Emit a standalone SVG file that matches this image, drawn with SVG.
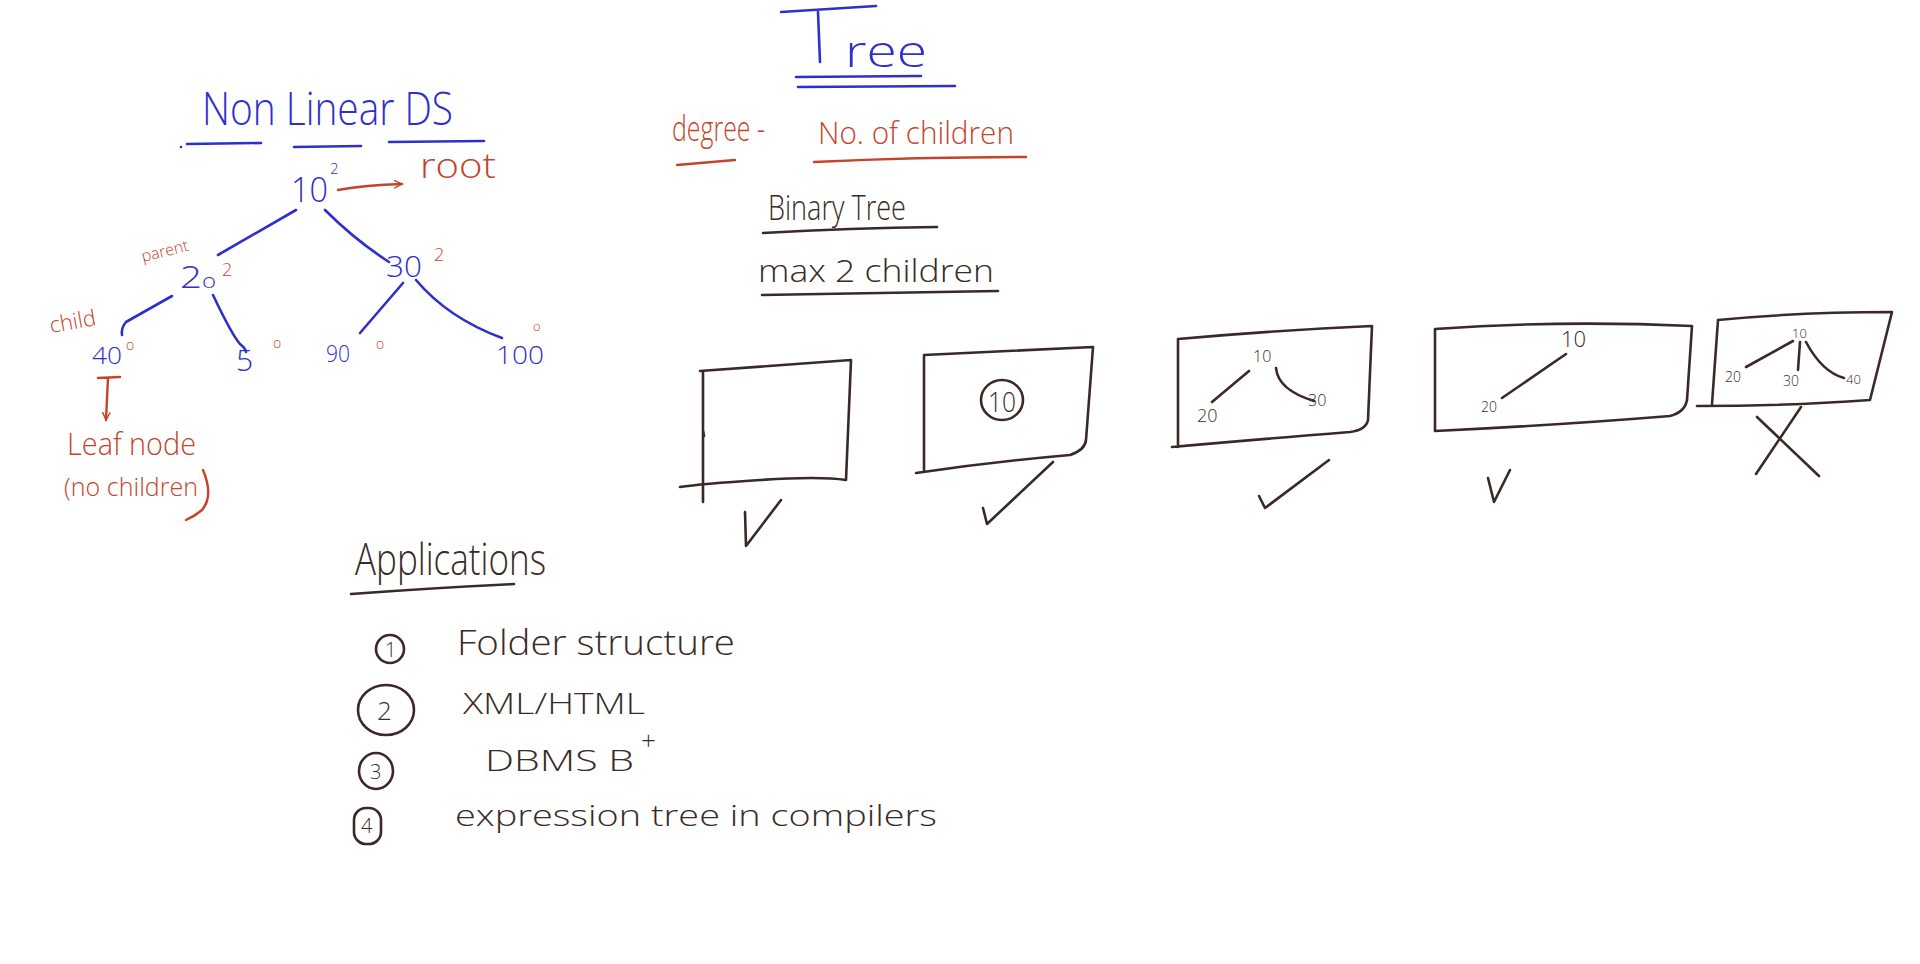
<svg xmlns="http://www.w3.org/2000/svg" width="1920" height="964" viewBox="0 0 1920 964">
<defs>
<style>
.b{fill:#2f2fcc}
.r{fill:#c4442a}
.k{fill:#3a2a26}
text{font-family:"Open Sans","Liberation Sans",sans-serif;font-weight:300}
.sb{stroke:#2f2fcc;fill:none;stroke-width:2.6;stroke-linecap:round;stroke-linejoin:round}
.sr{stroke:#c4442a;fill:none;stroke-width:2.4;stroke-linecap:round;stroke-linejoin:round}
.sk{stroke:#3a2a26;fill:none;stroke-width:2.6;stroke-linecap:round;stroke-linejoin:round}
</style>
<marker id="ar" viewBox="0 0 10 10" refX="9" refY="5" markerWidth="9" markerHeight="9" orient="auto" markerUnits="userSpaceOnUse">
<path d="M1,1 L9,5 L1,9" fill="none" stroke="#c4442a" stroke-width="1.6" stroke-linecap="round"/>
</marker>
</defs>
<rect width="1920" height="964" fill="#ffffff"/>

<!-- Left: Non Linear DS -->
<g id="title-nonlinear">
<text class="b" x="202" y="125" font-size="46" textLength="251" lengthAdjust="spacingAndGlyphs">Non Linear DS</text>
<path class="sb" d="M187,144 L261,143 M294,147 L361,146 M389,142 L484,141"/>
<circle cx="181" cy="147" r="1.3" fill="#2f2fcc"/>
</g>

<g id="connectors">
<path class="sb" d="M296,210 Q258,232 218,255"/>
<path class="sb" d="M325,210 Q355,240 389,262"/>
<path class="sb" d="M172,296 Q140,314 126,322 Q121,328 122,335"/>
<path class="sb" d="M213,295 Q232,335 240,344 Q246,349 246,352"/>
<path class="sb" d="M403,283 Q378,312 360,333"/>
<path class="sb" d="M416,280 Q448,318 502,338"/>
<path class="sr" d="M338,190 Q365,185 402,184" marker-end="url(#ar)"/>
<path class="sr" d="M98,378 L120,377 M108,378 L106,420" marker-end="url(#ar)"/>
</g>

<g id="node-10">
<text class="b" x="291" y="202" font-size="34" textLength="37" lengthAdjust="spacingAndGlyphs">10</text>
<text class="b" x="330" y="174" font-size="15">2</text>
</g>
<g id="label-root">
<text class="r" x="420" y="178" font-size="34" textLength="76" lengthAdjust="spacingAndGlyphs">root</text>
</g>
<g id="label-parent">
<text class="r" x="143" y="262" font-size="16" transform="rotate(-14 143 262)">parent</text>
</g>
<g id="node-20">
<text class="b" x="180" y="288" font-size="32" textLength="36" lengthAdjust="spacingAndGlyphs">2<tspan font-size="20">o</tspan></text>
<text class="r" x="222" y="276" font-size="18">2</text>
</g>
<g id="node-30">
<text class="b" x="386" y="277" font-size="30" textLength="36" lengthAdjust="spacingAndGlyphs">30</text>
<text class="r" x="434" y="261" font-size="18">2</text>
</g>
<g id="label-child">
<text class="r" x="51" y="333" font-size="22" transform="rotate(-10 51 333)">child</text>
</g>
<g id="node-40">
<text class="b" x="92" y="364" font-size="24" textLength="30" lengthAdjust="spacingAndGlyphs">40</text>
<text class="r" x="126" y="350" font-size="14">o</text>
</g>
<g id="node-5">
<text class="b" x="236" y="371" font-size="30">5</text>
<text class="r" x="273" y="348" font-size="14">o</text>
</g>
<g id="node-90">
<text class="b" x="326" y="362" font-size="24" textLength="24" lengthAdjust="spacingAndGlyphs">90</text>
<text class="r" x="376" y="349" font-size="14">o</text>
</g>
<g id="node-100">
<text class="b" x="496" y="364" font-size="26" textLength="48" lengthAdjust="spacingAndGlyphs">100</text>
<text class="r" x="533" y="331" font-size="13">o</text>
</g>
<g id="label-leaf">
<text class="r" x="67" y="455" font-size="32" textLength="129" lengthAdjust="spacingAndGlyphs">Leaf node</text>
<text class="r" x="64" y="496" font-size="26" textLength="134" lengthAdjust="spacingAndGlyphs">(no children</text>
<path class="sr" d="M203,470 Q214,496 202,510 Q195,516 186,520"/>
</g>

<!-- Tree header -->
<g id="title-tree">
<path class="sb" d="M781,12 L876,6 M818,12 L820,62"/>
<text class="b" x="845" y="67" font-size="44" textLength="82" lengthAdjust="spacingAndGlyphs">ree</text>
<path class="sb" d="M796,77 L921,76 M798,87 L955,86"/>
</g>
<g id="degree">
<text class="r" x="672" y="141" font-size="34" textLength="93" lengthAdjust="spacingAndGlyphs">degree -</text>
<path class="sr" d="M677,165 L735,160"/>
<text class="r" x="818" y="144" font-size="32" textLength="196" lengthAdjust="spacingAndGlyphs">No. of children</text>
<path class="sr" d="M814,162 Q920,157 1026,157"/>
</g>
<g id="binary-tree">
<text class="k" x="768" y="220" font-size="34" textLength="138" lengthAdjust="spacingAndGlyphs">Binary Tree</text>
<path class="sk" d="M763,233 Q850,228 937,227"/>
<text class="k" x="758" y="282" font-size="32" textLength="236" lengthAdjust="spacingAndGlyphs">max 2 children</text>
<path class="sk" d="M762,295 L998,291"/>
</g>

<!-- Example boxes -->
<g id="box-1">
<path class="sk" d="M700,371 L851,360 L846,480 Q820,476 760,480 Q700,484 680,487 M703,371 L703,502 M703,430 L704,436"/>
<path class="sk" d="M745,512 L746,546 L781,500"/>
</g>
<g id="box-2">
<path class="sk" d="M924,355 L1093,347 L1086,440 Q1085,450 1070,455 Q990,462 916,473 M924,355 L924,471"/>
<ellipse class="sk" cx="1002" cy="400" rx="21" ry="20"/>
<text class="k" x="988" y="412" font-size="28" textLength="28" lengthAdjust="spacingAndGlyphs">10</text>
<path class="sk" d="M983,508 L987,524 L1053,462"/>
</g>
<g id="box-3">
<path class="sk" d="M1178,339 Q1280,330 1372,326 L1368,420 Q1366,430 1350,432 Q1250,440 1172,447 M1178,339 L1178,447"/>
<text class="k" x="1253" y="362" font-size="16">10</text>
<path class="sk" d="M1249,371 L1212,402 M1276,368 Q1278,390 1314,401"/>
<text class="k" x="1197" y="422" font-size="18">20</text>
<text class="k" x="1308" y="406" font-size="16">30</text>
<path class="sk" d="M1259,496 L1265,508 L1329,460"/>
</g>
<g id="box-4">
<path class="sk" d="M1435,329 Q1560,320 1692,326 L1687,400 Q1685,412 1670,416 Q1560,425 1435,431 M1435,329 L1435,431"/>
<text class="k" x="1561" y="347" font-size="22">10</text>
<path class="sk" d="M1566,354 L1502,398"/>
<text class="k" x="1481" y="412" font-size="14">20</text>
<path class="sk" d="M1488,478 L1494,502 L1510,470"/>
</g>
<g id="box-5">
<path class="sk" d="M1718,320 Q1800,312 1892,312 L1870,400 Q1790,406 1697,406 M1718,320 L1712,404"/>
<text class="k" x="1792" y="338" font-size="13">10</text>
<path class="sk" d="M1793,341 L1746,367 M1800,342 L1798,370 M1806,342 Q1822,372 1844,378"/>
<text class="k" x="1725" y="382" font-size="14">20</text>
<text class="k" x="1783" y="386" font-size="14">30</text>
<text class="k" x="1846" y="384" font-size="13">40</text>
<path class="sk" d="M1757,417 L1819,476 M1801,407 L1756,474"/>
</g>

<!-- Applications -->
<g id="applications">
<text class="k" x="355" y="575" font-size="44" textLength="191" lengthAdjust="spacingAndGlyphs">Applications</text>
<path class="sk" d="M351,594 Q430,588 514,584"/>
</g>
<g id="app-1">
<circle class="sk" cx="390" cy="649" r="14"/>
<text class="k" x="385" y="657" font-size="20">1</text>
<text class="k" x="457" y="655" font-size="34" textLength="278" lengthAdjust="spacingAndGlyphs">Folder structure</text>
</g>
<g id="app-2">
<ellipse class="sk" cx="386" cy="710" rx="28" ry="25"/>
<text class="k" x="377" y="720" font-size="26">2</text>
<text class="k" x="463" y="714" font-size="30" textLength="182" lengthAdjust="spacingAndGlyphs">XML/HTML</text>
</g>
<g id="app-3">
<ellipse class="sk" cx="376" cy="771" rx="17" ry="18"/>
<text class="k" x="370" y="779" font-size="20">3</text>
<text class="k" x="485" y="771" font-size="30" textLength="149" lengthAdjust="spacingAndGlyphs">DBMS  B</text>
<text class="k" x="641" y="750" font-size="26">+</text>
</g>
<g id="app-4">
<rect class="sk" x="354" y="808" width="27" height="36" rx="12"/>
<text class="k" x="361" y="833" font-size="20">4</text>
<text class="k" x="455" y="826" font-size="30" textLength="482" lengthAdjust="spacingAndGlyphs">expression tree in compilers</text>
</g>
</svg>
